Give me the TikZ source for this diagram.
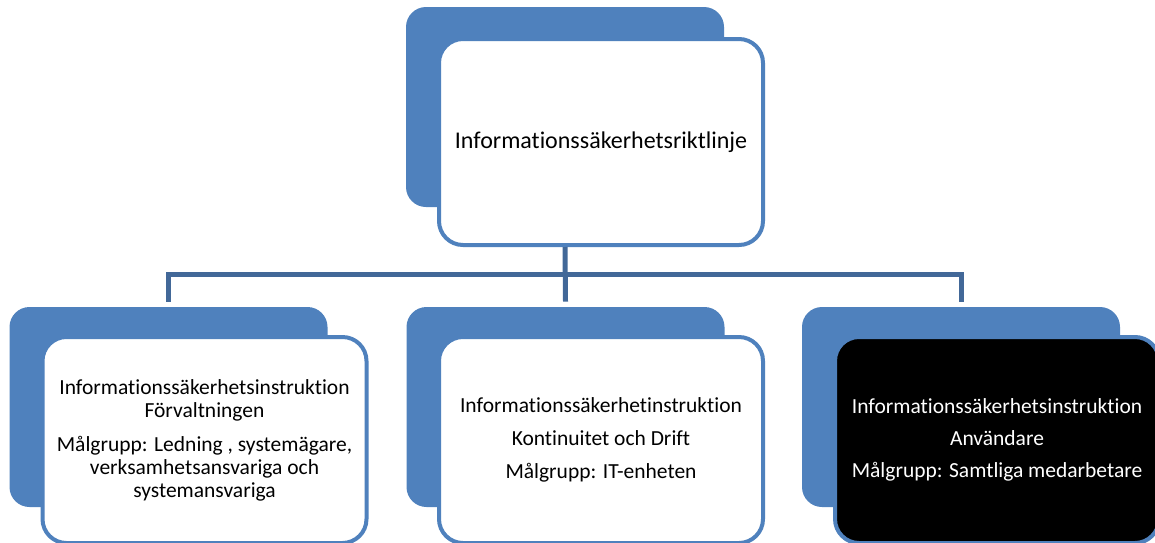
\documentclass[tikz,border=0pt]{standalone}
\usepackage{fontspec}
\setmainfont{Carlito}[Ligatures=NoCommon]
\definecolor{boxblue}{RGB}{79,129,189}
\definecolor{linkblue}{RGB}{66,104,152}
\begin{document}
\begin{tikzpicture}[x=0.5pt,y=-0.5pt]
\tikzset{every node/.style={font=\fontsize{10.75pt}{11.5pt}\selectfont, align=center, inner sep=0pt},
  back/.style={fill=boxblue, rounded corners=10pt, minimum width=159pt, minimum height=100pt},
  front/.style={draw=boxblue, fill=white, line width=2pt, rounded corners=12pt, minimum width=162pt, minimum height=103pt},
  link/.style={draw=linkblue, line width=2.5pt}}
\useasboundingbox (0,0) rectangle (1155,542);

% Nodes for back cards
\node[back] at (565, 107) (TopB) {};
\node[back] at (168.5, 407) (LeftB) {};
\node[back] at (565.5, 407) (MidB) {};
\node[back] at (961, 407) (RightB) {};

% Nodes for front cards
\node[front, font=\fontsize{12pt}{13pt}\selectfont] at (601, 142) (Top) {Informationssäkerhetsriktlinje};
\node[front] at (204.5, 440) (Left) {Informationssäkerhetsinstruktion\\ Förvaltningen\\[5.5pt]
  Målgrupp: Ledning , systemägare,\\ verksamhetsansvariga och\\ systemansvariga};
\node[front] at (601, 440) (Mid) {Informationssäkerhetinstruktion\\[5pt] Kontinuitet och Drift\\[5pt]
  Målgrupp: IT-enheten};
\node[front, fill=black, text=white] at (997, 440) (Right) {Informationssäkerhetsinstruktion\\[4.5pt]
  Användare\\[4.5pt] Målgrupp: Samtliga medarbetare};

% Lines for the tree
\coordinate (bus) at (565, 274);
\draw[link] (TopB |- Top.south) -- ([yshift=2.5pt]MidB.north);
\draw[link] ([yshift=2.5pt]LeftB.north) |- (bus) -| ([yshift=2.5pt]RightB.north);
\end{tikzpicture}
\end{document}
